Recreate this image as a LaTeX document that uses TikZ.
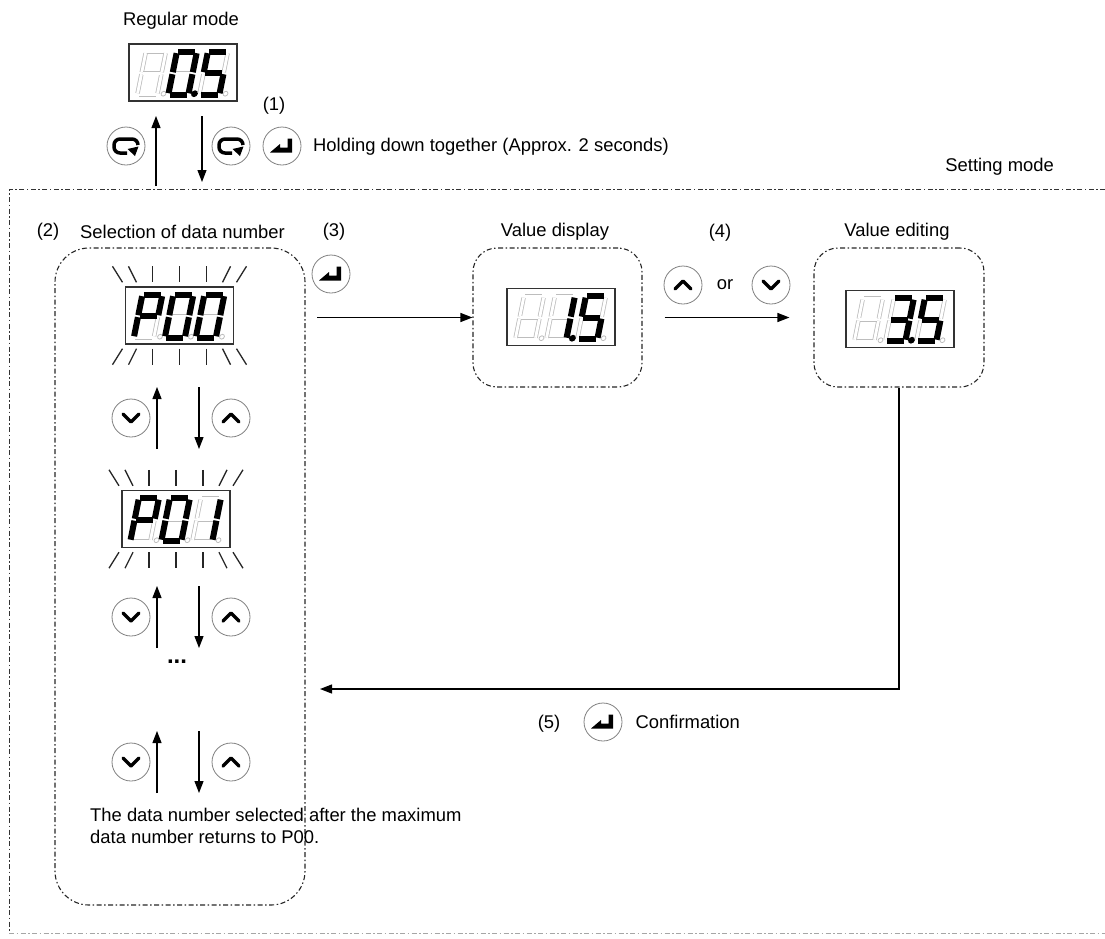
\documentclass[tikz,border=0pt]{standalone}
\usepackage{fontspec}
\setmainfont{Liberation Sans}
\usepackage{tikz}
\usetikzlibrary{positioning,calc,arrows.meta}
\definecolor{segoffgray}{rgb}{0.74,0.74,0.74}
\tikzstyle{dispbox} = [rectangle, draw=black!80, line width=1.4pt, minimum width=108pt, minimum height=57pt, inner sep=0pt]
\tikzstyle{btn} = [circle, draw=black!50, line width=0.8pt, minimum size=38pt, inner sep=0pt]
\tikzstyle{groupbox} = [rectangle, draw=black!85, line width=1.1pt, dash pattern=on 5pt off 2.5pt on 1.5pt off 2.5pt, rounded corners=24pt, inner sep=0pt]
\tikzstyle{frame} = [draw=black!80, line width=1pt, dash pattern=on 5pt off 2.5pt on 1.5pt off 2.5pt]
\tikzstyle{arrow} = [line width=1.2pt, -{Triangle[length=12pt,width=9pt]}]
\tikzstyle{lbl} = [font=\fontsize{18.4}{22}\selectfont, inner sep=0pt]
\tikzstyle{segoff} = [draw=segoffgray, line width=0.8pt, double=white, double distance=2.8pt]
\tikzstyle{segon} = [draw=black, line width=6pt]
\tikzstyle{ray} = [draw=black!85, line width=1.3pt]
\tikzstyle{keyline} = [line width=3.5pt, line cap=round, line join=round]
% seven segments (y points down)
\def\sega#1{\draw[#1] (1.5,-43) -- (18.5,-43);}
\def\segb#1{\draw[#1] (20,-41.5) -- (20,-22.5);}
\def\segc#1{\draw[#1] (20,-20.5) -- (20,-1.5);}
\def\segd#1{\draw[#1] (1.5,0) -- (18.5,0);}
\def\sege#1{\draw[#1] (0,-20.5) -- (0,-1.5);}
\def\segf#1{\draw[#1] (0,-41.5) -- (0,-22.5);}
\def\segg#1{\draw[#1] (1.5,-21.5) -- (18.5,-21.5);}
\def\segnone#1{}
\newcommand\segdigit[3]{%
  \begin{scope}[shift={(#1,0)}, xslant=0.2]
    \foreach \s in {a,b,c,d,e,f,g} {\csname seg\s\endcsname{segoff}}
    \draw[segoffgray, line width=0.8pt] (26,-1) circle (2.4pt);
    \foreach \s in {#2} {\csname seg\s\endcsname{segon}}
    \ifnum#3=1 \fill (26,-1) circle (3.4pt);\fi
  \end{scope}}
\newcommand\segdisp[5]{%
  \begin{scope}[shift={(#1.south west)}, shift={(9,-7)}]
    \segdigit{0}{#2}{0}
    \segdigit{31}{#3}{#5}
    \segdigit{62}{#4}{0}
  \end{scope}}
\newcommand\flash[1]{%
  \foreach \u/\v in {-67/-57,-51/-43,-27/-27,0/0,27/27,51/43,67/57} {
    \draw[ray] ($(#1.north)+(\u,-20)$) -- ($(#1.north)+(\v,-4)$);
    \draw[ray] ($(#1.south)+(\v,4)$) -- ($(#1.south)+(\u,20)$);
  }}
% key symbols
\newcommand\upkey[1]{\begin{scope}[shift={(#1)}]\draw[keyline] (-8,4) -- (0,-4) -- (8,4);\end{scope}}
\newcommand\downkey[1]{\begin{scope}[shift={(#1)}]\draw[keyline] (-8,-4) -- (0,4) -- (8,-4);\end{scope}}
\newcommand\enterkey[1]{\begin{scope}[shift={(#1)}]\fill (-12,6.5) -- (-2,-2) -- (-2,1.5) -- (5.5,1.5) -- (5.5,-7.5) -- (10,-7.5) -- (10,6.5) -- cycle;\end{scope}}
\newcommand\loopkey[1]{\begin{scope}[shift={(#1)}]
  \draw[line width=3.5pt, rounded corners=6pt] (12,-1) -- (12,-7) -- (-12,-7) -- (-12,7) -- (1,7);
  \fill (1.5,3) -- (12.5,0.5) -- (9,10) -- cycle;\end{scope}}

\begin{document}
\begin{tikzpicture}[x=1pt, y=-1pt]
\useasboundingbox (0,0) rectangle (1105,938);

% regular mode
\node[lbl] (regtxt) at (181,21) {Regular mode};
\node[dispbox] (regdisp) at (183,72.5) {};
\segdisp{regdisp}{none}{a,b,c,d,e,f}{a,c,d,f,g}{1}
\node[btn] (modeA) at (126,146) {}; \loopkey{modeA}
\node[btn] (modeB) at (231,146) {}; \loopkey{modeB}
\node[btn] (ent1) at (282,146) {}; \enterkey{ent1}
\node[lbl] (n1) at (274,106) {(1)};
\node[lbl, anchor=west] (holdtxt) at (313,147) {Holding down together (Approx. 2 seconds)};
\coordinate (upA) at (156,186); \coordinate (upB) at (156,116);
\coordinate (dnA) at (202,116); \coordinate (dnB) at (202,182);
\draw[arrow] (upA) -- (upB);
\draw[arrow] (dnA) -- (dnB);

% setting mode
\node[lbl, anchor=east] (settxt) at (1054,167) {Setting mode};
\draw[frame] (1105,189) -- (9,189) -- (9,933);
\draw[frame, draw=black!35] (9,933) -- (1105,933);

% (2) selection
\node[lbl] (n2) at (48,232) {(2)};
\node[lbl, anchor=west] (seltxt) at (80,232) {Selection of data number};
\node[groupbox, rounded corners=34pt, minimum width=250pt, minimum height=657pt] (selbox) at (180,576.5) {};
\node[dispbox] (p00) at (179.5,315.5) {};
\segdisp{p00}{a,b,e,f,g}{a,b,c,d,e,f}{a,b,c,d,e,f}{0}
\flash{p00}
\node[dispbox] (p01) at (176,519) {};
\segdisp{p01}{a,b,e,f,g}{a,b,c,d,e,f}{b,c}{0}
\flash{p01}
\foreach \yy/\nm in {418/pa,617/pb,762/pc} {
  \node[btn] (\nm-dn) at (131,\yy) {}; \downkey{\nm-dn}
  \node[btn] (\nm-up) at (231,\yy) {}; \upkey{\nm-up}
  \coordinate (\nm-1) at (157,\yy+31); \coordinate (\nm-2) at (157,\yy-31);
  \coordinate (\nm-3) at (199,\yy-31); \coordinate (\nm-4) at (199,\yy+31);
  \draw[arrow] (\nm-1) -- (\nm-2);
  \draw[arrow] (\nm-3) -- (\nm-4);
}
\node[font=\bfseries\fontsize{24}{24}\selectfont, inner sep=0pt] (dots) at (177,662) {...};
\node[lbl, anchor=north west, align=left] (wraptxt) at (90,808) {The data number selected after the maximum\\data number returns to P00.};

% (3) value display
\node[lbl] (n3) at (334,232) {(3)};
\node[btn] (ent3) at (331,274) {}; \enterkey{ent3}
\node[lbl] (vdtxt) at (555,232) {Value display};
\node[groupbox, minimum width=169pt, minimum height=139pt] (vdbox) at (557.5,317.5) {};
\node[dispbox] (vdisp) at (561,317) {};
\segdisp{vdisp}{none}{b,c}{a,c,d,f,g}{1}
\coordinate (a3) at (317,317.5);
\draw[arrow] (a3) -- (vdbox.west);

% (4) value editing
\node[lbl] (n4) at (720,233) {(4)};
\node[btn] (upk) at (683,285) {}; \upkey{upk}
\node[lbl] (ortxt) at (725,285) {or};
\node[btn] (dnk) at (771,285) {}; \downkey{dnk}
\node[lbl] (vetxt) at (897,232) {Value editing};
\node[groupbox, minimum width=170pt, minimum height=139pt] (vebox) at (899,317.5) {};
\node[dispbox] (vedisp) at (900,319) {};
\segdisp{vedisp}{none}{a,b,c,d,g}{a,c,d,f,g}{1}
\draw[arrow, shorten <=22pt, shorten >=24pt] (vdbox.east) -- (vebox.west);

% (5) confirmation
\coordinate (cf) at (320,689);
\draw[arrow] (vebox.south) |- (cf);
\node[lbl] (n5) at (549,724) {(5)};
\node[btn] (ent5) at (603,722) {}; \enterkey{ent5}
\node[lbl, right=13pt of ent5] (conftxt) {Confirmation};
\end{tikzpicture}
\end{document}
